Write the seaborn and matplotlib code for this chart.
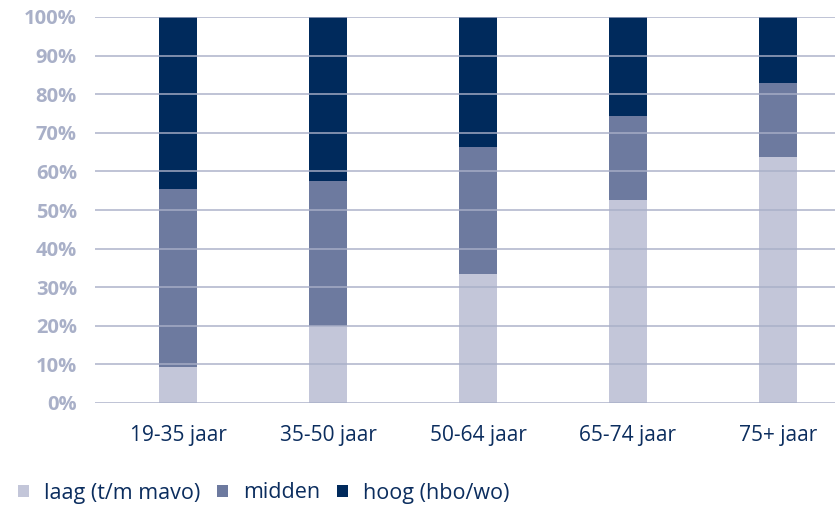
import matplotlib
matplotlib.use("Agg")
import matplotlib.pyplot as plt
import seaborn as sns
import pandas as pd
import numpy as np
from matplotlib.patches import Patch

# Opleidingsniveau per leeftijdsgroep (aandeel in %)
categories = ["19-35 jaar", "35-50 jaar", "50-64 jaar", "65-74 jaar", "75+ jaar"]
laag = [9.2, 20.0, 33.4, 52.6, 63.7]
midden = [46.2, 37.5, 32.9, 21.8, 19.2]
hoog = [44.6, 42.5, 33.7, 25.6, 17.1]
series_names = ["laag (t/m mavo)", "midden", "hoog (hbo/wo)"]
colors = ["#c3c6d9", "#6d7a9f", "#002a5c"]
yticks = list(range(0, 101, 10))

sns.set_theme(style="white")
plt.rcParams["font.family"] = ["Open Sans", "DejaVu Sans"]

df = pd.DataFrame({"cat": categories, "laag": laag, "midden": midden, "hoog": hoog})
df["top_laag"] = df["laag"]
df["top_midden"] = df["laag"] + df["midden"]
df["top_hoog"] = df["top_midden"] + df["hoog"]

fig = plt.figure(figsize=(8.35, 5.05), dpi=100)
ax = fig.add_axes([95 / 835, 1 - 403 / 505, 1 - 95 / 835, (403 - 17) / 505])

# stacked bars: draw the cumulative totals from top to bottom
for col, c in zip(["top_hoog", "top_midden", "top_laag"], colors[::-1]):
    sns.barplot(data=df, x="cat", y=col, color=c, width=0.253, ax=ax,
                saturation=1, linewidth=0, errorbar=None)

ax.set_ylim(0, 100)
ax.set_xlim(-0.553, 4.38)
ax.set_yticks(yticks)
ax.set_yticklabels([f"{v}%" for v in yticks], fontsize=14.5, fontweight="bold",
                   color="#a9b0c8")
ax.tick_params(axis="y", length=0, pad=13)
ax.tick_params(axis="x", length=0, pad=16, labelsize=15, labelcolor="#0b2d5e")
ax.set_xlabel("")
ax.set_ylabel("")
for s in ax.spines.values():
    s.set_visible(False)

ax.set_axisbelow(False)
ax.yaxis.grid(True, color="#a9afc8", linewidth=1.4, alpha=0.75)
ax.xaxis.grid(False)

handles = [Patch(facecolor=c, edgecolor="none", label=n) for n, c in zip(series_names, colors)]
fig.legend(handles=handles, loc="center left", bbox_to_anchor=(18 / 835, 1 - 493 / 505),
           ncol=3, frameon=False, fontsize=15.5, labelcolor="#0b2d5e",
           handlelength=0.5, handleheight=0.5, handletextpad=0.7, columnspacing=0.8,
           borderaxespad=0, borderpad=0)

fig.savefig("out.png", dpi=100)
